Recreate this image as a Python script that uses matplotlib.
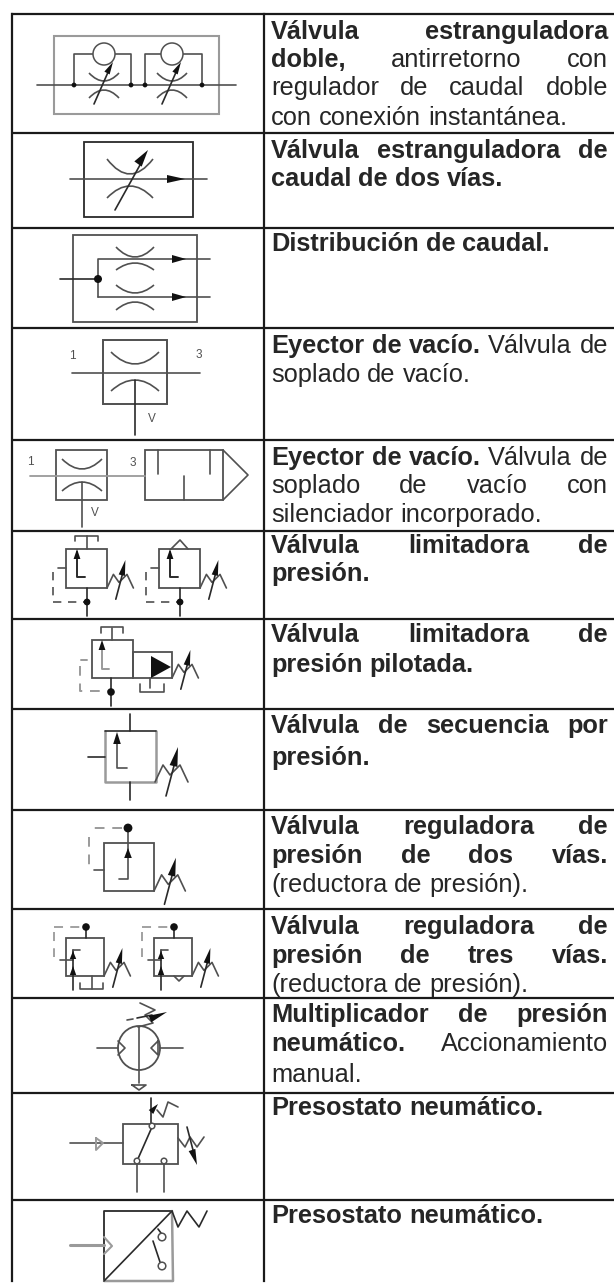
import numpy as np
from matplotlib import pyplot as plt
from matplotlib.patches import Circle, Ellipse, PathPatch, Polygon, Rectangle
from matplotlib.path import Path

plt.rcParams["font.family"] = ["Liberation Sans", "DejaVu Sans"]

# table grid, in pixels of the page
row_lines = [14, 133, 228, 328, 440, 531, 619, 709, 810, 909, 998, 1093, 1200]
table_left = 11.5
table_mid = 263.5
table_bottom = 1281

# each line of text: bold part, regular part, justified to the cell or not
row_text = [
    [("Válvula estranguladora", "", True),
     ("doble,", "antirretorno con", True),
     ("", "regulador de caudal doble", True),
     ("", "con conexión instantánea.", False)],
    [("Válvula estranguladora de", "", True),
     ("caudal de dos vías.", "", False)],
    [("Distribución de caudal.", "", False)],
    [("Eyector de vacío.", "Válvula de", True),
     ("", "soplado de vacío.", False)],
    [("Eyector de vacío.", "Válvula de", True),
     ("", "soplado de vacío con", True),
     ("", "silenciador incorporado.", False)],
    [("Válvula limitadora de", "", True),
     ("presión.", "", False)],
    [("Válvula limitadora de", "", True),
     ("presión pilotada.", "", False)],
    [("Válvula de secuencia por", "", True),
     ("presión.", "", False)],
    [("Válvula reguladora de", "", True),
     ("presión de dos vías.", "", True),
     ("", "(reductora de presión).", False)],
    [("Válvula reguladora de", "", True),
     ("presión de tres vías.", "", True),
     ("", "(reductora de presión).", False)],
    [("Multiplicador de presión", "", True),
     ("neumático.", "Accionamiento", True),
     ("", "manual.", False)],
    [("Presostato neumático.", "", False)],
    [("Presostato neumático.", "", False)],
]
row_baselines = [
    [39, 67, 95, 125],
    [158, 186],
    [251],
    [353, 382],
    [465, 493, 522],
    [553, 581],
    [642, 672],
    [733, 765],
    [834, 863, 892],
    [934, 963, 992],
    [1022, 1051, 1082],
    [1115],
    [1223],
]
port_labels = [("1", 72, 356), ("3", 199, 355), ("V", 152, 419),
               ("1", 30, 462), ("3", 133, 463), ("V", 95, 513)]

text_left = 271
text_right = 608
font_size = 18.3
INK = "#262626"
DARK = "#2a2a2a"
MID = "#505050"
GREY = "#9a9a9a"

fig = plt.figure(figsize=(6.14, 12.83), dpi=100)
ax = fig.add_axes([0, 0, 1, 1])
ax.set_xlim(0, 614)
ax.set_ylim(1283, 0)
ax.axis("off")
renderer = fig.canvas.get_renderer()


####################  drawing helpers  ####################

def line(pts, color=MID, lw=1.2, ls="-"):
    xs, ys = zip(*pts)
    if ls == "--":
        ax.plot(xs, ys, color=color, lw=lw, dashes=(5, 4), solid_capstyle="butt")
    else:
        ax.plot(xs, ys, color=color, lw=lw, solid_capstyle="round")


def box(x0, y0, x1, y1, color=MID, lw=1.3):
    ax.add_patch(Rectangle((x0, y0), x1 - x0, y1 - y0, fill=False, ec=color, lw=lw))


def arc(x0, x1, y, ymid, color=MID, lw=1.2):
    path = Path([(x0, y), ((x0 + x1) / 2, 2 * ymid - y), (x1, y)],
                [Path.MOVETO, Path.CURVE3, Path.CURVE3])
    ax.add_patch(PathPatch(path, fill=False, ec=color, lw=lw))


def dot(x, y, r=3.2, color="#111111"):
    ax.add_patch(Circle((x, y), r, fc=color, ec="none", zorder=4))


def ring(x, y, r, color=MID, lw=1.1):
    ax.add_patch(Circle((x, y), r, fc="white", ec=color, lw=lw, zorder=3))


def head(x0, y0, x1, y1, w=4.0, color="#111111"):
    # filled arrow head with its tip at x1, y1
    d = np.array([x1 - x0, y1 - y0], dtype=float)
    n = np.array([-d[1], d[0]]) / np.hypot(*d) * w
    ax.add_patch(Polygon([(x1, y1), (x0 + n[0], y0 + n[1]), (x0 - n[0], y0 - n[1])],
                         fc=color, ec="none", zorder=4))


def spring(x, y, s=1.0):
    # zigzag spring with its adjusting arrow, from the corner of a valve body
    pts = [(0, 0), (8, -17), (15, -7), (25, -17), (33, 0)]
    line([(x + a * s, y + b * s) for a, b in pts], color=MID)
    line([(x + 11 * s, y + 14 * s), (x + 20 * s, y - 20 * s)], color=DARK)
    head(x + 18.5 * s, y - 16 * s, x + 23 * s, y - 35 * s, w=4.0 * s)


def restrictor(cx, y_top, dip, y_bot, rise, half):
    arc(cx - half, cx + half, y_top, dip)
    arc(cx - half, cx + half, y_bot, rise)


####################  table and text  ####################

for y in row_lines:
    ax.plot([table_left - 1, 614], [y, y], color="#1a1a1a", lw=1.6, solid_capstyle="butt")
ax.plot([table_left, table_left], [row_lines[0], table_bottom], color="#1a1a1a", lw=1.6)
ax.plot([table_mid, table_mid], [row_lines[0], table_bottom], color="#1a1a1a", lw=1.6)

for lines, baselines in zip(row_text, row_baselines):
    for (bold_part, regular_part, justified), base in zip(lines, baselines):
        words = [(w, "bold") for w in bold_part.split()] + [(w, "normal") for w in regular_part.split()]
        items = [ax.text(text_left, base, w, weight=wt, fontsize=font_size, color=INK,
                         ha="left", va="baseline") for w, wt in words]
        widths = [t.get_window_extent(renderer).width for t in items]
        gap = 6.9
        if justified and len(items) > 1:
            gap = (text_right - text_left - sum(widths)) / (len(items) - 1)
        x = text_left
        for t, wd in zip(items, widths):
            t.set_x(x)
            x += wd + gap

for s, x, y in port_labels:
    ax.text(x, y, s, fontsize=8.5, color=MID, ha="center", va="center")

####################  symbols  ####################

# 1 - double throttle with check valves
box(54, 36, 219, 114, color=GREY, lw=1.5)
line([(37, 85), (236, 85)], color=MID)
ring(104, 54, 11)
ring(172, 54, 11)
for xa, xb, cx in ((74, 131, 104), (145, 202, 172)):
    line([(xa, 85), (xa, 54), (cx - 11, 54)])
    line([(cx + 11, 54), (xb, 54), (xb, 85)])
    dot(xa, 85, 2.4)
    dot(xb, 85, 2.4)
    restrictor(cx, 73, 81, 98, 90, 15)
    line([(cx - 10, 104), (cx + 5, 70)], color=DARK)
    head(cx + 3, 73, cx + 9, 62, w=3)

# 2 - two way throttle
box(84, 142, 193, 217, color=DARK)
line([(70, 179), (207, 179)])
head(167, 179, 185, 179, w=4)
restrictor(130, 159, 174, 198, 186, 23)
line([(115, 210), (140, 165)], color=DARK)
head(138, 164, 148, 150, w=4.5)

# 3 - flow distribution
box(73, 235, 197, 322, color=MID)
line([(60, 279), (98, 279)], color=DARK)
dot(98, 279, 4)
line([(98, 297), (98, 259), (210, 259)])
line([(98, 297), (210, 297)])
head(172, 259, 186, 259, w=4)
head(172, 297, 186, 297, w=4)
restrictor(135, 247, 257, 270, 263, 19)
restrictor(135, 285, 293, 310, 302, 19)

# 4 - vacuum ejector
box(103, 340, 167, 404, color=MID, lw=1.4)
line([(72, 373), (200, 373)])
restrictor(135, 352, 364, 391, 380, 24)
line([(135, 380), (135, 435)], color=DARK)

# 5 - vacuum ejector with silencer
box(56, 450, 107, 500, color=MID)
line([(30, 476), (145, 476)], color=GREY, lw=1.3)
restrictor(82, 459, 469, 491, 482, 20)
line([(82, 482), (82, 527)], color=MID)
box(145, 450, 223, 500, color=MID)
line([(223, 450), (248, 475), (223, 500)], color=MID)
line([(158, 450), (158, 474)], color=MID)
line([(210, 450), (210, 474)], color=MID)
line([(184, 476), (184, 500)], color=MID)

# 6 - pressure limiting valves
for off in (0, 93):
    box(66 + off, 549, 107 + off, 588, color=MID)
    line([(87 + off, 588), (87 + off, 616)], color=DARK)
    dot(87 + off, 602, 3.4)
    line([(85 + off, 577), (77 + off, 577), (77 + off, 552)], color=DARK, lw=1.4)
    head(77 + off, 559, 77 + off, 549, w=3.4)
    line([(58 + off, 568), (66 + off, 568)])
    line([(53 + off, 572), (53 + off, 602), (87 + off, 602)], ls="--")
    spring(107 + off, 588, 0.8)
line([(87, 549), (87, 536)], color=MID)
line([(75, 541), (75, 536), (98, 536), (98, 541)], color=MID)
line([(171, 549), (180, 540), (188, 549)], color=MID)

# 7 - piloted pressure limiting valve
box(92, 640, 133, 678, color=MID)
box(133, 652, 172, 678, color=MID)
line([(112, 640), (112, 628)])
line([(101, 633), (101, 627), (123, 627), (123, 633)], color=MID)
line([(111, 678), (111, 706)], color=DARK)
dot(111, 692, 3.8)
line([(109, 669), (102, 669), (102, 648)], color=GREY, lw=1.4)
head(102, 650, 102, 640, w=3.4)
line([(81, 660), (87, 660)], color=GREY, lw=1.4)
line([(80, 666), (80, 691), (108, 691)], color=GREY, lw=1.4, ls="--")
head(151, 667, 171, 667, w=11)
line([(150, 678), (150, 688)])
line([(140, 684), (140, 692), (164, 692), (164, 684)], color=MID)
spring(172, 678, 0.8)

# 8 - pressure sequence valve
line([(105, 731), (105, 782), (156, 782), (156, 731)], color=GREY, lw=1.8)
line([(105, 731), (156, 731)], color=DARK)
line([(130, 731), (130, 714)], color=DARK)
line([(130, 782), (130, 800)], color=DARK)
line([(88, 757), (105, 757)], color=DARK)
line([(127, 768), (117, 768), (117, 742)], color=MID)
head(117, 744, 117, 732, w=3.8)
spring(155, 782, 1.0)

# 9 - two way pressure regulator
box(104, 843, 154, 891, color=MID)
line([(128, 828), (128, 879), (119, 879)], color=MID)
dot(128, 828, 4.4)
head(128, 858, 128, 848, w=3.8)
line([(122, 828), (89, 828)], color=GREY, lw=1.4, ls="--")
line([(89, 837), (89, 868)], color=GREY, lw=1.4, ls="--")
line([(94, 870), (104, 870)])
spring(154, 891, 0.95)

# 10 - three way pressure regulators
for off in (0, 88):
    box(66 + off, 938, 104 + off, 976, color=MID)
    line([(86 + off, 927), (86 + off, 938)], color=DARK)
    dot(86 + off, 927, 3.8)
    line([(54 + off, 927), (82 + off, 927)], ls="--", color=GREY, lw=1.3)
    line([(54 + off, 932), (54 + off, 957)], ls="--", color=GREY, lw=1.3)
    line([(60 + off, 960), (73 + off, 960)])
    line([(73 + off, 950), (73 + off, 990)], color=DARK)
    line([(73 + off, 950), (80 + off, 950)])
    head(73 + off, 959, 73 + off, 951, w=3.2)
    head(73 + off, 975, 73 + off, 966, w=3.2)
    spring(104 + off, 976, 0.8)
line([(92, 976), (92, 989)])
line([(80, 983), (80, 989), (103, 989), (103, 983)])
line([(174, 976), (179, 981), (184, 976)])

# 11 - pressure multiplier
ax.add_patch(Ellipse((139, 1048), 42, 44, fill=False, ec=MID, lw=1.3))
line([(139, 1027), (139, 1083)], color=MID)
line([(97, 1048), (118, 1048)])
line([(160, 1048), (183, 1048)])
line([(118, 1041), (125, 1048), (118, 1055)])
line([(158, 1041), (151, 1048), (158, 1055), (158, 1041)])
line([(132, 1085), (146, 1085), (139, 1090), (132, 1085)])
line([(140, 1003), (155, 1010), (145, 1015), (153, 1023), (138, 1027)], color=MID)
line([(127, 1020), (133, 1019)])
line([(137, 1018), (152, 1015)], color=DARK)
head(150, 1019, 167, 1012, w=3.5)

# 12 - pressure switch
box(123, 1124, 178, 1164, color=MID)
line([(70, 1143), (123, 1143)])
line([(96, 1138), (103, 1143), (96, 1150), (96, 1138)], color=GREY, lw=1.4)
line([(137, 1161), (152, 1127)], color=DARK)
ring(152, 1126, 2.8)
ring(137, 1161, 2.8)
ring(164, 1161, 2.8)
line([(137, 1164), (137, 1192)])
line([(164, 1164), (164, 1192)])
line([(151, 1124), (151, 1098)], color=DARK)
head(151, 1112, 158, 1104, w=3)
line([(157, 1110), (163, 1117), (168, 1102), (178, 1107)])
line([(178, 1138), (185, 1147), (190, 1137), (197, 1147), (204, 1137)])
line([(187, 1127), (193, 1150)], color=DARK)
head(192, 1150, 197, 1165, w=3.5)

# 13 - pressure switch, electronic
line([(104, 1281), (104, 1211), (172, 1211)], color=DARK, lw=1.3)
line([(172, 1211), (173, 1281), (104, 1281)], color=GREY, lw=1.8)
line([(70, 1245), (104, 1245)], color=GREY, lw=2.2)
line([(104, 1237), (112, 1246), (104, 1254)], color=GREY, lw=1.5)
line([(104, 1281), (172, 1211)], color=DARK, lw=1.2)
line([(172, 1211), (178, 1227), (187, 1211), (199, 1227), (207, 1211)], color=DARK)
line([(153, 1241), (160, 1262)], color=DARK)
line([(158, 1229), (161, 1233)], color=DARK)
ring(162, 1237, 3.8)
ring(162, 1266, 3.8)

plt.savefig("out.png", dpi=100)
